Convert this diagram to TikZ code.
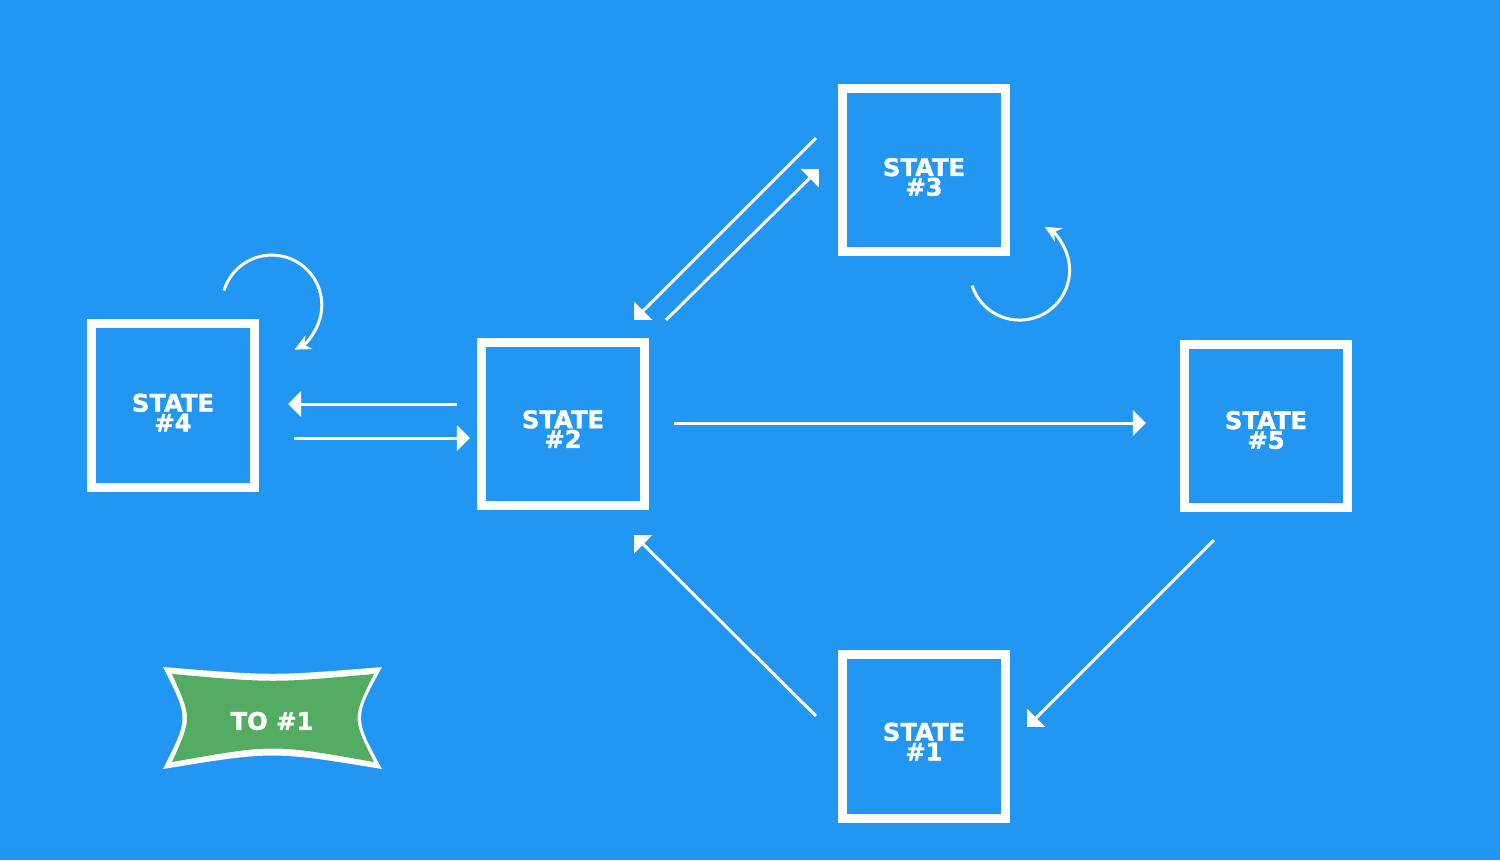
\documentclass[tikz,border=0pt]{standalone}
\usepackage{fontspec}
\setmainfont{DejaVu Sans}
\newfontfamily\heavyfont[FakeBold=1.4]{DejaVu Sans Bold}
\usetikzlibrary{positioning,calc,arrows.meta}
\definecolor{bgblue}{RGB}{33,150,243}
\definecolor{taggreen}{RGB}{84,172,98}

\begin{document}
\begin{tikzpicture}[x=0.01cm,y=-0.01cm,
    statebox/.style={draw=white, line width=0.09cm, minimum size=1.63cm, inner sep=0pt},
    statetext/.style={text=white, font=\heavyfont\fontsize{6.9}{5.6}\selectfont, align=center},
    trans/.style={color=white, line width=0.03cm, -{Triangle[length=0.13cm,width=0.25cm]}},
    selfloop/.style={color=white, line width=0.03cm, -{Stealth[length=0.16cm,width=0.15cm,inset=0.05cm]}}]
          \fill[bgblue] (0,0) rectangle (1500,860);
          \useasboundingbox (0,0) rectangle (1500,860);

          \node[statebox] (s2) at (563,424)   {};
          \node[statebox] (s4) at (173,405.5) {};
          \node[statebox] (s3) at (924,170)   {};
          \node[statebox] (s5) at (1266,426)  {};
          \node[statebox] (s1) at (924,736.5) {};

          \node[statetext] (t2) at ($(s2)+(0,5)$)   {STATE\\\#2};
          \node[statetext] (t4) at ($(s4)+(0,7)$)   {STATE\\\#4};
          \node[statetext] (t3) at ($(s3)+(0,7)$)   {STATE\\\#3};
          \node[statetext] (t5) at ($(s5)+(0,4)$)   {STATE\\\#5};
          \node[statetext] (t1) at ($(s1)+(0,5)$)   {STATE\\\#1};

          \path[trans] ($(s2.west)+(-20,-20)$)        edge ($(s4.east)+(29,-1.5)$)
                       ($(s4.east)+(35,32.5)$)        edge ($(s2.west)+(-7,14)$)
                       ($(s2.east)+(25,-1)$)          edge ($(s5.west)+(-34,-3)$)
                       ($(s3.west)+(-22,-32)$)        edge ($(s2.north east)+(-15,-18)$)
                       ($(s2.north east)+(17,-18)$)   edge ($(s3.west)+(-19,-1)$)
                       ($(s1.west)+(-22,-20.5)$)      edge ($(s2.south east)+(-15,25)$)
                       ($(s5.south)+(-52,28)$)        edge ($(s1.east)+(17,-9.5)$);

          \draw[selfloop] ($(s4.north)+(51,-29)$) arc[start angle=197, end angle=423, radius=50];
          \draw[selfloop] ($(s3.south east)+(-38,29.5)$) arc[start angle=162, end angle=-60, radius=50];

          % the tag
          \fill[white] (163,667) .. controls (272.5,676) .. (382,667)
                                 .. controls (354,718) .. (382,769)
                                 .. controls (272.5,751) .. (163,769)
                                 .. controls (189,718) .. (163,667) -- cycle;
          \fill[taggreen] (172,674) .. controls (273,683) .. (374,674)
                                    .. controls (352,718) .. (374,762)
                                    .. controls (273,744) .. (172,762)
                                    .. controls (192,718) .. (172,674) -- cycle;
          \node[statetext] (to1) at (272,721) {TO \#1};
\end{tikzpicture}
\end{document}
